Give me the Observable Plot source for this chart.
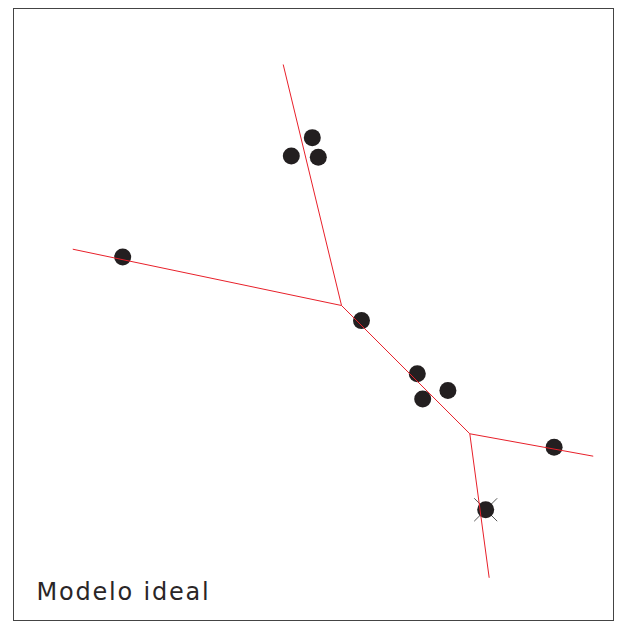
<!DOCTYPE html>
<html>
<head>
<meta charset="utf-8">
<script src="https://cdn.jsdelivr.net/npm/d3@7"></script>
<script src="https://cdn.jsdelivr.net/npm/@observablehq/plot@0.6"></script>
<style>
  html, body { margin: 0; padding: 0; background: #fff; }
</style>
</head>
<body>
<div id="chart"></div>
<script>
// Sample points (x, y in plot units)
const pointX = [49.8, 46.3, 50.8, 18.2, 58.0, 67.3, 68.2, 72.4, 90.1, 78.7];
const pointY = [78.9, 75.9, 75.7, 59.4, 49.0, 40.3, 36.2, 37.6, 28.3, 18.1];
const pointMarked = [false, false, false, false, false, false, false, false, false, true];

// Tree nodes
const nodeNames = ["A", "B", "top", "left", "right", "bottom"];
const nodeX = [54.67, 76.05, 44.95, 9.88, 96.62, 79.28];
const nodeY = [51.47, 30.51, 90.85, 60.67, 26.85, 6.98];

// Tree edges
const edgeFrom = ["A", "A", "A", "B", "B"];
const edgeTo = ["top", "left", "B", "right", "bottom"];

const labelText = "Modelo ideal";

const points = pointX.map((x, i) => ({x, y: pointY[i], marked: pointMarked[i]}));
const nodes = new Map(nodeNames.map((n, i) => [n, {x: nodeX[i], y: nodeY[i]}]));
const edges = edgeFrom.map((f, i) => ({
  x1: nodes.get(f).x, y1: nodes.get(f).y,
  x2: nodes.get(edgeTo[i]).x, y2: nodes.get(edgeTo[i]).y
}));

const chart = Plot.plot({
  width: 619,
  height: 622,
  marginLeft: 13,
  marginRight: 6,
  marginTop: 8,
  marginBottom: 2,
  x: {domain: [0, 100], axis: null},
  y: {domain: [0, 100], axis: null},
  style: {background: "#fff"},
  marks: [
    Plot.frame({stroke: "#444", strokeWidth: 1}),
    Plot.dot(points.filter(d => d.marked), {x: "x", y: "y", symbol: "times", r: 10.5, stroke: "#555", strokeWidth: 1}),
    Plot.dot(points, {x: "x", y: "y", r: 8.5, fill: "#231f20", stroke: "none"}),
    Plot.link(edges, {x1: "x1", y1: "y1", x2: "x2", y2: "y2", stroke: "#e8202a", strokeWidth: 1}),
    Plot.text([labelText], {
      x: 3.83, y: 3.4, text: d => d, textAnchor: "start", lineAnchor: "bottom",
      fontSize: 24, fontFamily: "DejaVu Sans", fill: "#2a2627",
      className: "label-text"
    })
  ]
});
d3.select(chart).selectAll("g.label-text text").style("letter-spacing", "1.8px");
document.getElementById("chart").appendChild(chart);
</script>
</body>
</html>
